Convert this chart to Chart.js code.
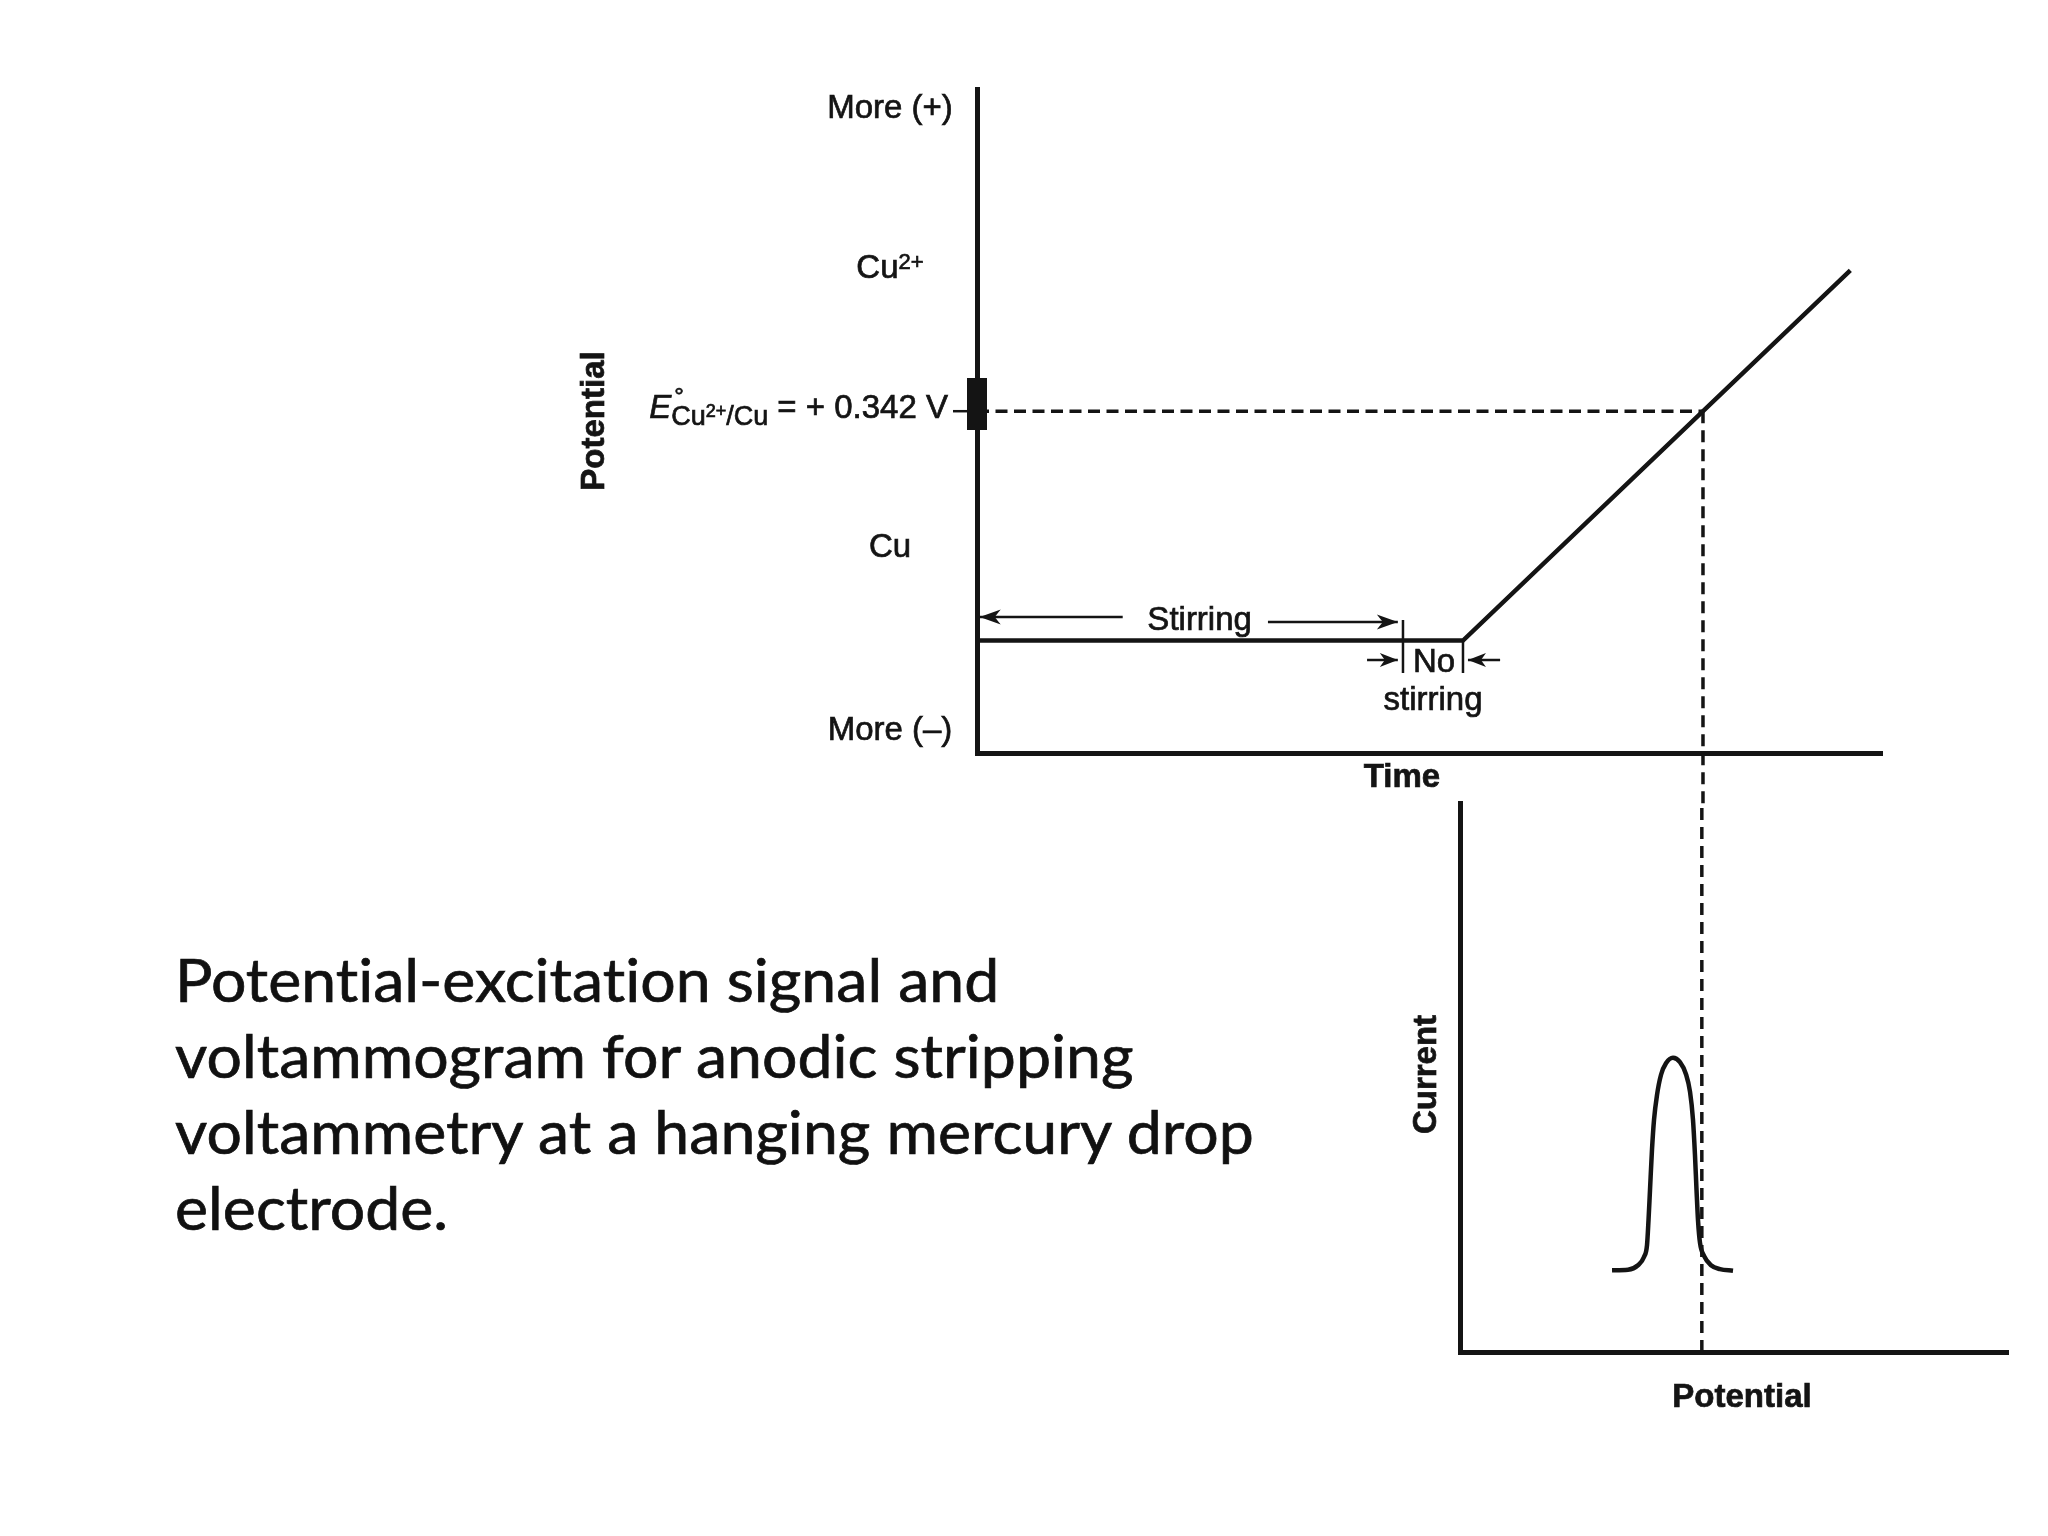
<!DOCTYPE html>
<html>
<head>
<meta charset="utf-8">
<script src="https://cdn.jsdelivr.net/npm/chart.js@4.4.1/dist/chart.umd.min.js"></script>
<style>
  html, body { margin: 0; padding: 0; background: #fff; width: 2048px; height: 1536px; overflow: hidden; }
  .layer { position: absolute; left: 0; top: 0; width: 2048px; height: 1536px; }
  #caption { position: absolute; left: 175px; top: 941px; font-family: Lato, "Open Sans", sans-serif; font-size: 60px; line-height: 76px; color: #111; white-space: nowrap;
             font-variant-ligatures: none; font-feature-settings: "liga" 0, "clig" 0; -webkit-text-stroke: 0.7px #111; }
  #caption div { transform-origin: 0 0; }
</style>
</head>
<body>
<div class="layer"><canvas id="voltammogram"></canvas></div>
<div class="layer"><canvas id="excitation"></canvas></div>
<div id="caption"></div>
<script>
// ---------------- data ----------------
// Potential-excitation signal (upper plot): time in arbitrary units, potential in V
const timeRange = [0, 100];
const potentialRange = [-0.6, 1.23];
const excitationTime = [0, 53.7, 96.5];
const excitationPotential = [-0.29, -0.29, 0.73];
const stirringEnd = 47.07;              // stirring stops here, rest period follows
const E0 = 0.342;                       // E° Cu2+/Cu, V
const potentialTickValues = [1.182, 0.741, 0.342, -0.027, -0.531];
const potentialTickLabels = ['More (+)', 'Cu²⁺', 'E°Cu²⁺/Cu = + 0.342 V', 'Cu', 'More (–)'];
const intervalLabels = ['Stirring', 'No', 'stirring'];

// Anodic stripping voltammogram (lower plot): potential in V, current in arbitrary units
const scanRange = [0, 0.775];
const currentRange = [0, 100];
const scanPotential = [0.215, 0.2376, 0.2517, 0.2602, 0.2645, 0.2666, 0.2687, 0.2715, 0.2744, 0.2786, 0.2843, 0.2913, 0.3012,
                       0.3111, 0.3196, 0.3253, 0.3295, 0.3323, 0.3345, 0.3366, 0.3394, 0.3451, 0.3550, 0.3677, 0.3861];
const scanCurrent   = [14.9, 15.0, 15.8, 17.3, 19.5, 24.0, 29.5, 36.8, 42.3, 46.8, 50.5, 52.6, 53.6,
                       52.8, 50.6, 47.4, 42.3, 35.9, 29.5, 24.0, 19.9, 17.5, 15.8, 15.1, 14.8];

const axisTitlesTop = ['Time', 'Potential'];
const axisTitlesBottom = ['Potential', 'Current'];
const captionLines = [
  'Potential-excitation signal and',
  'voltammogram for anodic stripping',
  'voltammetry at a hanging mercury drop',
  'electrode.'
];

// ---------------- helpers ----------------
const INK = '#141414';
const SANS = '"Liberation Sans", Arial, Helvetica, sans-serif';

// time at which the scan ramp reaches E0
function crossingTime(ts, vs, v) {
  for (let i = 1; i < ts.length; i++) {
    const a = vs[i - 1], b = vs[i];
    if ((a - v) * (b - v) <= 0 && a !== b) return ts[i - 1] + (v - a) / (b - a) * (ts[i] - ts[i - 1]);
  }
  return ts[ts.length - 1];
}
const tE0 = crossingTime(excitationTime, excitationPotential, E0);
const rampStart = excitationTime[1];

function drawText(ctx, t, x, y) {
  ctx.fillText(t, x, y);
  ctx.strokeText(t, x, y);
}
function richText(ctx, x, y, segs, align) {
  let w = 0;
  segs.forEach(s => { ctx.font = s.font; s.w = ctx.measureText(s.t).width; if (!s.overlay) w += s.w; });
  let cx = align === 'right' ? x - w : align === 'center' ? x - w / 2 : x;
  ctx.textAlign = 'left';
  segs.forEach(s => {
    ctx.font = s.font;
    drawText(ctx, s.t, cx + (s.dx || 0), y + (s.dy || 0));
    if (!s.overlay) cx += s.w;
  });
}
function supSegments(str, size, dy) {
  // turns "Cu²⁺/Cu" into normal + superscript pieces
  const out = [];
  str.split(/(²⁺)/).forEach(p => {
    if (!p) return;
    if (p === '²⁺') out.push({ t: '2+', font: `${Math.round(size * 0.66)}px ${SANS}`, dy: dy - size * 0.3 });
    else out.push({ t: p, font: `${size}px ${SANS}`, dy: dy });
  });
  return out;
}

const arrowPlugin = {
  id: 'arrowHeads',
  afterDatasetsDraw(chart) {
    const ctx = chart.ctx;
    chart.data.datasets.forEach((ds, i) => {
      if (!ds.arrowHead) return;
      const pts = chart.getDatasetMeta(i).data;
      const a = pts[pts.length - 2], b = pts[pts.length - 1];
      const ang = Math.atan2(b.y - a.y, b.x - a.x);
      const L = ds.arrowHead.length, W = ds.arrowHead.width, N = ds.arrowHead.notch;
      ctx.save();
      ctx.translate(b.x, b.y); ctx.rotate(ang);
      ctx.beginPath();
      ctx.moveTo(0, 0); ctx.lineTo(-L, -W); ctx.lineTo(-L + N, 0); ctx.lineTo(-L, W); ctx.closePath();
      ctx.fillStyle = INK; ctx.fill();
      ctx.restore();
    });
  }
};

const topLabels = {
  id: 'topLabels',
  afterDraw(chart) {
    const { ctx, chartArea: ca, scales: { x, y } } = chart;
    ctx.save();
    ctx.fillStyle = INK;
    ctx.strokeStyle = INK;
    ctx.lineWidth = 0.7;
    ctx.textBaseline = 'alphabetic';
    const labelX = ca.left - 87;
    potentialTickValues.forEach((v, i) => {
      const py = y.getPixelForValue(v);
      const lab = potentialTickLabels[i];
      if (lab.startsWith('E°')) {
        const m = lab.match(/^E°(\S+) (.*)$/);
        const segs = [{ t: 'E', font: `italic 33px ${SANS}` }];
        segs.push({ t: '°', font: `24px ${SANS}`, dx: 3, dy: -14, overlay: true });
        supSegments(m[1], 27, 7).forEach(s => segs.push(s));
        segs.push({ t: ' ' + m[2], font: `33px ${SANS}` });
        richText(ctx, ca.left - 29, py + 7, segs, 'right');
      } else {
        richText(ctx, labelX, py + 12, supSegments(lab, 33, 0), 'center');
      }
    });
    // interval labels
    ctx.font = `33px ${SANS}`;
    ctx.textAlign = 'center';
    drawText(ctx, intervalLabels[0], x.getPixelForValue(24.6), y.getPixelForValue(-0.261));
    const mid = (stirringEnd + rampStart) / 2;
    drawText(ctx, intervalLabels[1], x.getPixelForValue(mid) + 1, y.getPixelForValue(-0.377));
    drawText(ctx, intervalLabels[2], x.getPixelForValue(mid), y.getPixelForValue(-0.4815));
    // axis titles
    ctx.font = `bold 33px ${SANS}`;
    drawText(ctx, axisTitlesTop[0], ca.left + 425, ca.bottom + 34);
    ctx.save();
    ctx.translate(ca.left - 385, (ca.top + ca.bottom) / 2);
    ctx.rotate(-Math.PI / 2);
    drawText(ctx, axisTitlesTop[1], 0, 12);
    ctx.restore();
    ctx.restore();
  }
};

const bottomLabels = {
  id: 'bottomLabels',
  afterDraw(chart) {
    const { ctx, chartArea: ca } = chart;
    ctx.save();
    ctx.fillStyle = INK;
    ctx.strokeStyle = INK;
    ctx.lineWidth = 0.7;
    ctx.textAlign = 'center';
    ctx.textBaseline = 'alphabetic';
    ctx.font = `bold 33px ${SANS}`;
    drawText(ctx, axisTitlesBottom[0], ca.left + 282, ca.bottom + 55);
    ctx.save();
    ctx.translate(ca.left - 36, (ca.top + ca.bottom) / 2 - 3);
    ctx.rotate(-Math.PI / 2);
    drawText(ctx, axisTitlesBottom[1], 0, 12);
    ctx.restore();
    ctx.restore();
  }
};

function axis(min, max) {
  return {
    type: 'linear', min, max,
    ticks: { display: false },
    grid: { display: false, drawTicks: false },
    border: { display: true, color: INK, width: 5 }
  };
}
const common = {
  responsive: true, maintainAspectRatio: false, devicePixelRatio: 1,
  animation: false, events: [],
  plugins: { legend: { display: false }, tooltip: { enabled: false } }
};
const seg = (x1, y1, x2, y2) => [{ x: x1, y: y1 }, { x: x2, y: y2 }];
const thin = { borderColor: INK, borderWidth: 2.5, pointRadius: 0, borderCapStyle: 'butt', clip: false };
const head = { length: 21, width: 7.5, notch: 6 };
const headSmall = { length: 18, width: 7, notch: 5 };

// ---------------- upper chart: excitation signal ----------------
new Chart(document.getElementById('excitation'), {
  type: 'line',
  data: {
    datasets: [
      { label: 'E° marker', data: seg(0, 0.290, 0, 0.4335), borderColor: INK, borderWidth: 20, borderCapStyle: 'butt', pointRadius: 0, clip: false },
      { label: 'E° tick', data: seg(-2.65, E0, 0, E0), ...thin },
      { label: 'Potential-excitation signal', data: excitationTime.map((t, i) => ({ x: t, y: excitationPotential[i] })),
        borderColor: INK, borderWidth: 4.5, pointRadius: 0, tension: 0 },
      { label: 'E° level', data: seg(0, E0, tE0, E0), borderColor: INK, borderWidth: 3.5, borderDash: [12, 6.5], pointRadius: 0, clip: false },
      { label: 'E° drop line', data: seg(tE0, E0, tE0, -0.74), borderColor: INK, borderWidth: 3.5, borderDash: [12, 7], pointRadius: 0, clip: false },
      { label: 'stir arrow L', data: seg(16.1, -0.2252, 0.3, -0.2252), ...thin, arrowHead: head },
      { label: 'stir arrow R', data: seg(32.15, -0.239, 46.5, -0.239), ...thin, arrowHead: head },
      { label: 'stir end tick', data: seg(stirringEnd, -0.2334, stirringEnd, -0.3797), ...thin },
      { label: 'ramp start tick', data: seg(rampStart, excitationPotential[1], rampStart, -0.3797), ...thin },
      { label: 'rest arrow L', data: seg(43.1, -0.3437, 46.5, -0.3437), ...thin, arrowHead: headSmall },
      { label: 'rest arrow R', data: seg(57.8, -0.3437, 54.25, -0.3437), ...thin, arrowHead: headSmall }
    ]
  },
  options: {
    ...common,
    layout: { padding: { left: 977, right: 166, top: 89, bottom: 783 }, autoPadding: false },
    scales: { x: axis(timeRange[0], timeRange[1]), y: axis(potentialRange[0], potentialRange[1]) }
  },
  plugins: [arrowPlugin, topLabels]
});

// ---------------- lower chart: voltammogram ----------------
new Chart(document.getElementById('voltammogram'), {
  type: 'line',
  data: {
    datasets: [
      { label: 'Stripping current', data: scanPotential.map((p, i) => ({ x: p, y: scanCurrent[i] })),
        borderColor: INK, borderWidth: 4.5, pointRadius: 0, cubicInterpolationMode: 'monotone' },
      { label: 'E° line', data: seg(E0, currentRange[0], E0, currentRange[1]), borderColor: INK, borderWidth: 3.5,
        borderDash: [12, 7], pointRadius: 0, clip: false }
    ]
  },
  options: {
    ...common,
    layout: { padding: { left: 1460, right: 40, top: 803, bottom: 184 }, autoPadding: false },
    scales: { x: axis(scanRange[0], scanRange[1]), y: axis(currentRange[0], currentRange[1]) }
  },
  plugins: [bottomLabels]
});

// ---------------- caption ----------------
(function () {
  const cap = document.getElementById('caption');
  const m = document.createElement('canvas').getContext('2d');
  m.font = '60px Lato, "Open Sans", sans-serif';
  const sx = 1082 / m.measureText(captionLines[2]).width;
  captionLines.forEach(line => {
    const d = document.createElement('div');
    d.textContent = line;
    d.style.transform = `scaleX(${sx.toFixed(4)})`;
    cap.appendChild(d);
  });
})();
</script>
</body>
</html>
